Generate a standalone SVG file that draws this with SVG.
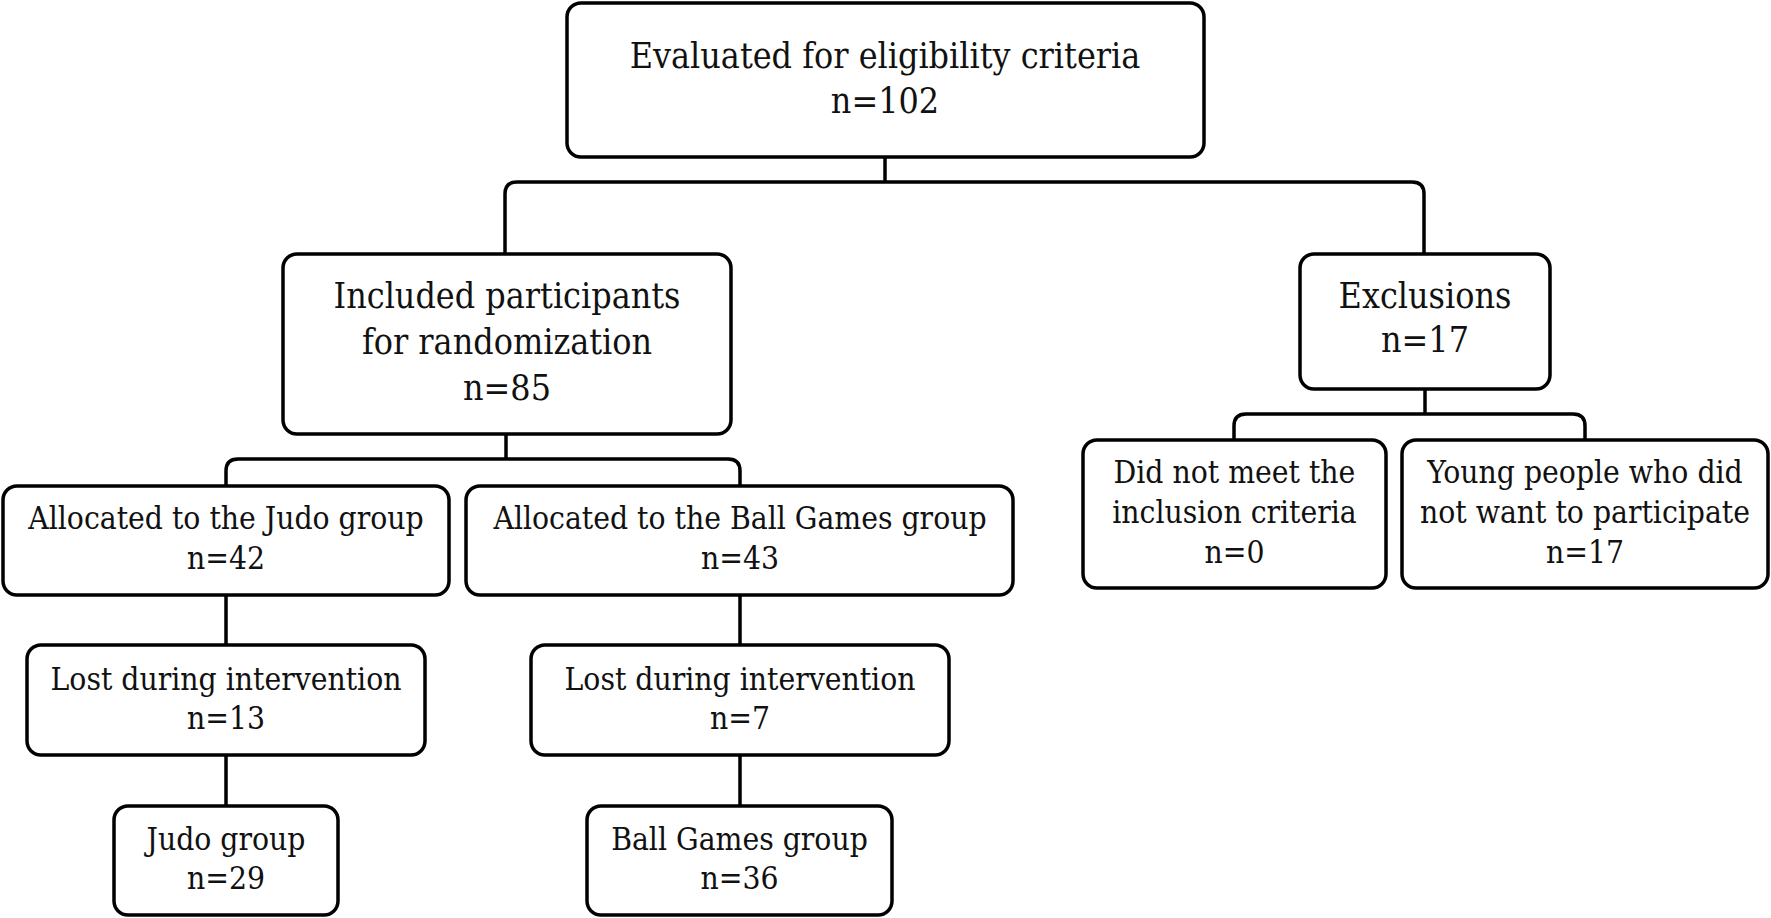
<svg xmlns="http://www.w3.org/2000/svg" width="1771" height="918" viewBox="0 0 1771 918">
<style>
.box{fill:#fff;stroke:#000;stroke-width:3.5}
.ln{fill:none;stroke:#000;stroke-width:3.5}
text{font-family:'DejaVu Serif Condensed','DejaVu Serif',serif;font-stretch:condensed;fill:#111;text-anchor:middle}
.big{font-size:35.5px}
.sm{font-size:31.5px}
</style>
<rect width="1771" height="918" fill="#fff"/>
<g id="connectors">
<path class="ln" d="M885,157 V182"/>
<path class="ln" d="M505,254 V194 Q505,182 517,182 H1412 Q1424,182 1424,194 V254"/>
<path class="ln" d="M506,434 V459"/>
<path class="ln" d="M226,487 V471 Q226,459 238,459 H728 Q740,459 740,471 V487"/>
<path class="ln" d="M1425,389 V414"/>
<path class="ln" d="M1234,440 V426 Q1234,414 1246,414 H1573 Q1585,414 1585,426 V440"/>
<path class="ln" d="M226,595 V645 M226,755 V806"/>
<path class="ln" d="M740,595 V645 M740,755 V806"/>
</g>
<g id="n-eval">
<rect class="box" x="567" y="3" width="637" height="154" rx="14"/>
<text class="big" x="885" y="68">Evaluated for eligibility criteria</text>
<text class="big" x="885" y="113">n=102</text>
</g>
<g id="n-included">
<rect class="box" x="283" y="254" width="448" height="180" rx="14"/>
<text class="big" x="507" y="308">Included participants</text>
<text class="big" x="507" y="354">for randomization</text>
<text class="big" x="507" y="400">n=85</text>
</g>
<g id="n-exclusions">
<rect class="box" x="1300" y="254" width="250" height="135" rx="14"/>
<text class="big" x="1425" y="308">Exclusions</text>
<text class="big" x="1425" y="352">n=17</text>
</g>
<g id="n-notmeet">
<rect class="box" x="1083" y="440" width="303" height="148" rx="14"/>
<text class="sm" x="1234.5" y="483">Did not meet the</text>
<text class="sm" x="1234.5" y="523">inclusion criteria</text>
<text class="sm" x="1234.5" y="563">n=0</text>
</g>
<g id="n-young">
<rect class="box" x="1402" y="440" width="366" height="148" rx="14"/>
<text class="sm" x="1585" y="483">Young people who did</text>
<text class="sm" x="1585" y="523">not want to participate</text>
<text class="sm" x="1585" y="563">n=17</text>
</g>
<g id="n-alloc-judo">
<rect class="box" x="3" y="486" width="446" height="109" rx="14"/>
<text class="sm" x="226" y="529">Allocated to the Judo group</text>
<text class="sm" x="226" y="569">n=42</text>
</g>
<g id="n-alloc-ball">
<rect class="box" x="466" y="486" width="547" height="109" rx="14"/>
<text class="sm" x="740" y="529">Allocated to the Ball Games group</text>
<text class="sm" x="740" y="569">n=43</text>
</g>
<g id="n-lost-judo">
<rect class="box" x="27" y="645" width="398" height="110" rx="14"/>
<text class="sm" x="226" y="690">Lost during intervention</text>
<text class="sm" x="226" y="729">n=13</text>
</g>
<g id="n-lost-ball">
<rect class="box" x="531" y="645" width="418" height="110" rx="14"/>
<text class="sm" x="740" y="690">Lost during intervention</text>
<text class="sm" x="740" y="729">n=7</text>
</g>
<g id="n-judo">
<rect class="box" x="114" y="806" width="224" height="109" rx="14"/>
<text class="sm" x="226" y="850">Judo group</text>
<text class="sm" x="226" y="889">n=29</text>
</g>
<g id="n-ball">
<rect class="box" x="587" y="806" width="305" height="109" rx="14"/>
<text class="sm" x="739.5" y="850">Ball Games group</text>
<text class="sm" x="739.5" y="889">n=36</text>
</g>
</svg>
